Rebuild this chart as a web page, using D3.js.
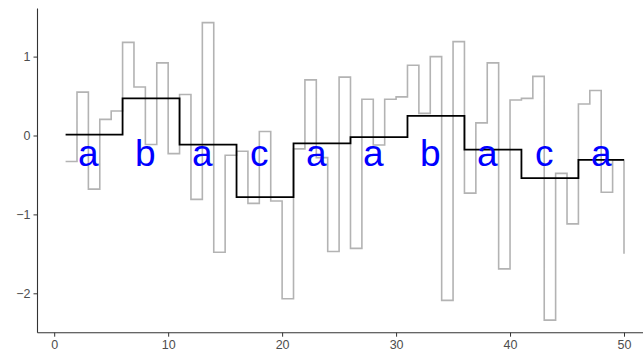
<!DOCTYPE html>
<meta charset="utf-8">
<style>
body { margin: 0; background: #fff; }
svg { font-family: "Liberation Sans", Arial, sans-serif; }
.axis path, .axis line { stroke: #333; }
.axis text { fill: #4d4d4d; font-size: 12.5px; }
</style>
<body>
<div id="chart"></div>
<script src="https://cdn.jsdelivr.net/npm/d3@7"></script>
<script>
// raw series, x = 1..50
var xs = d3.range(1, 51);
var values = [
  -0.33, 0.55, -0.68, 0.205, 0.31,
  1.18, 0.615, -0.115, 0.92, -0.23,
  0.52, -0.81, 1.43, -1.48, -0.25,
  -0.2, -0.86, 0.05, -0.83, -2.07,
  -0.17, 0.705, -0.28, -1.47, 0.74,
  -1.43, 0.46, -0.12, 0.46, 0.49,
  0.89, 0.28, 1.0, -2.09, 1.19,
  -0.73, 0.16, 0.92, -1.69, 0.45,
  0.47, 0.75, -2.34, -0.48, -1.12,
  0.40, 0.57, -0.72, -0.31, -1.5
];

// segment means (black step)
var segX = [1, 6, 11, 16, 21, 26, 31, 36, 41, 46, 50];
var segMeans = [0.01, 0.47, -0.115, -0.78, -0.10, -0.02, 0.25, -0.18, -0.54, -0.31, -0.31];

// text labels
var labelX = [3, 8, 13, 18, 23, 28, 33, 38, 43, 48];
var labelText = ["a", "b", "a", "c", "a", "a", "b", "a", "c", "a"];
var labelY = -0.25;

var xTicks = [0, 10, 20, 30, 40, 50];
var yTicks = [-2, -1, 0, 1];

var width = 643, height = 355;

var svg = d3.select("#chart").append("svg")
    .attr("width", width)
    .attr("height", height);

var x = d3.scaleLinear().domain([0, 50]).range([54.2, 624]);
var y = d3.scaleLinear().domain([-2, 1]).range([293.3, 56.6]);

var panelLeft = 37.5, panelBottom = 332.7, panelTop = 8.5, panelRight = 643;

// gray step line
var grayLine = d3.line()
    .x(function(d, i) { return x(xs[i]); })
    .y(function(d) { return y(d); })
    .curve(d3.curveStepAfter);

svg.append("path")
    .datum(values)
    .attr("d", grayLine)
    .attr("fill", "none")
    .attr("stroke", "#b3b3b3")
    .attr("stroke-width", 1.6);

// black step line
var blackLine = d3.line()
    .x(function(d, i) { return x(segX[i]); })
    .y(function(d) { return y(d); })
    .curve(d3.curveStepAfter);

svg.append("path")
    .datum(segMeans)
    .attr("d", blackLine)
    .attr("fill", "none")
    .attr("stroke", "#000")
    .attr("stroke-width", 1.8);

// letters
svg.selectAll(".lbl")
    .data(labelText)
    .enter().append("text")
    .attr("class", "lbl")
    .attr("x", function(d, i) { return x(labelX[i]); })
    .attr("y", y(labelY))
    .attr("dy", "0.3em")
    .attr("text-anchor", "middle")
    .attr("fill", "#0000ff")
    .style("font-size", "37px")
    .text(function(d) { return d; });

// axes
var xAxis = d3.axisBottom(x).tickValues(xTicks).tickSize(4).tickPadding(3);
var yAxis = d3.axisLeft(y).tickValues(yTicks).tickSize(4).tickPadding(3)
    .tickFormat(function(d) { return d < 0 ? "\u2212" + Math.abs(d) : d; });

var gx = svg.append("g")
    .attr("class", "axis")
    .attr("transform", "translate(0," + panelBottom + ")")
    .call(xAxis);
gx.select(".domain").remove();
gx.append("line")
    .attr("x1", panelLeft).attr("x2", panelRight)
    .attr("stroke", "#000").attr("stroke-width", 1.1);

var gy = svg.append("g")
    .attr("class", "axis")
    .attr("transform", "translate(" + panelLeft + ",0)")
    .call(yAxis);
gy.select(".domain").remove();
gy.append("line")
    .attr("y1", panelTop).attr("y2", panelBottom)
    .attr("stroke", "#000").attr("stroke-width", 1.1);
</script>
</body>
